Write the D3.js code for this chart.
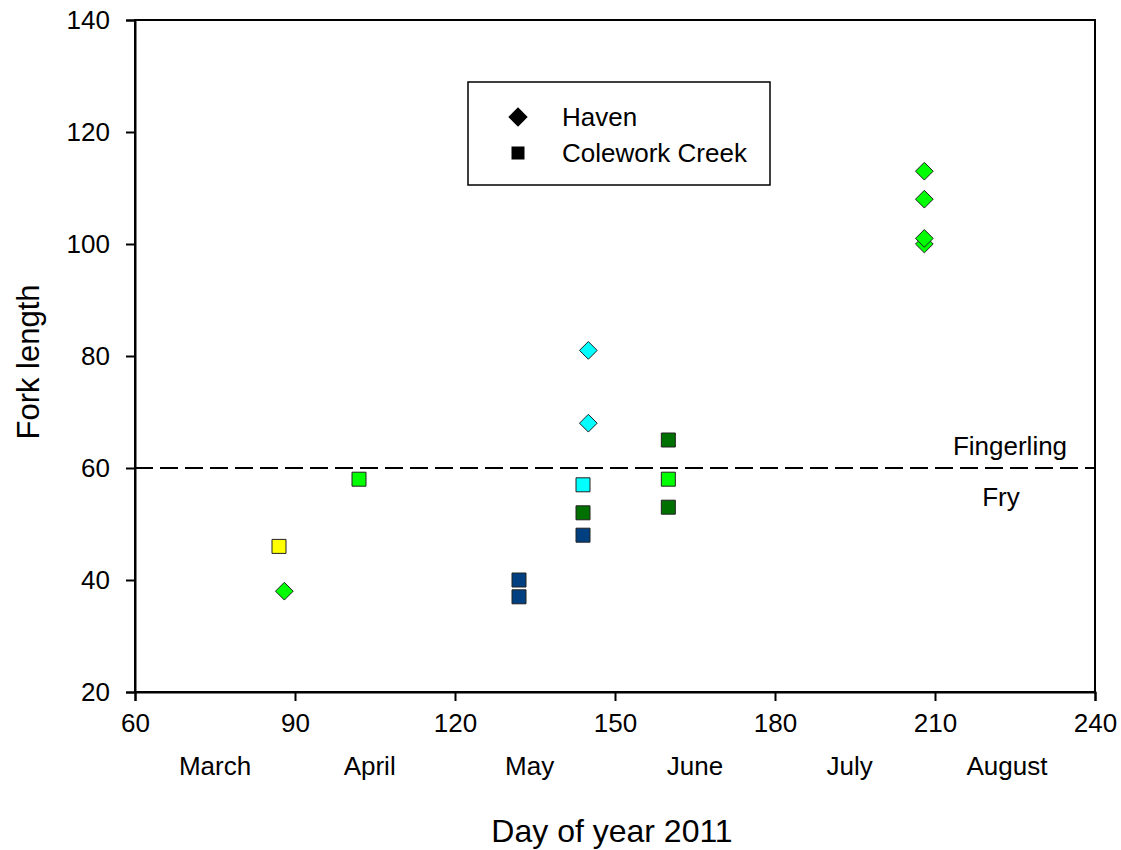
<!DOCTYPE html>
<html>
<head>
<meta charset="utf-8">
<script src="https://cdn.jsdelivr.net/npm/d3@7"></script>
<style>
    body { margin: 0; background: #fff; }
    text { font-family: "Liberation Sans", Arial, sans-serif; fill: #000; }
</style>
</head>
<body>
<svg id="chart" width="1121" height="850"></svg>
<script>
// data
const haven = [
    { day: 88,  len: 38,  color: '#00ff00' },
    { day: 145, len: 81,  color: '#00ffff' },
    { day: 145, len: 68,  color: '#00ffff' },
    { day: 208, len: 113, color: '#00ff00' },
    { day: 208, len: 108, color: '#00ff00' },
    { day: 208, len: 100, color: '#00ff00' },
    { day: 208, len: 101, color: '#00ff00' },
];
const colework = [
    { day: 87,  len: 46, color: '#ffff00' },
    { day: 102, len: 58, color: '#00ff00' },
    { day: 132, len: 40, color: '#004080' },
    { day: 132, len: 37, color: '#004080' },
    { day: 144, len: 57, color: '#00ffff' },
    { day: 144, len: 52, color: '#007000' },
    { day: 144, len: 48, color: '#004080' },
    { day: 160, len: 65, color: '#007000' },
    { day: 160, len: 58, color: '#00ff00' },
    { day: 160, len: 53, color: '#007000' },
];
const xTicks = [60, 90, 120, 150, 180, 210, 240];
const yTicks = [20, 40, 60, 80, 100, 120, 140];
const months = ['March', 'April', 'May', 'June', 'July', 'August'];
const monthDays = [75, 104, 134, 165, 194, 223.5];
const threshold = 60;

let svg = d3.select('#chart');
let mLeft = 135, mRight = 1095, mTop = 20, mBottom = 692;

let x = d3.scaleLinear().domain([60, 240]).range([mLeft, mRight]);
let y = d3.scaleLinear().domain([20, 140]).range([mBottom, mTop]);

// frame
svg.append('rect')
    .attr('x', mLeft).attr('y', mTop)
    .attr('width', mRight - mLeft).attr('height', mBottom - mTop)
    .attr('fill', 'none').attr('stroke', '#000').attr('stroke-width', 2);

let xAxis = svg.append('g')
    .attr('transform', `translate(0,${mBottom})`)
    .call(d3.axisBottom(x).tickValues(xTicks).tickSize(9).tickPadding(13));
let yAxis = svg.append('g')
    .attr('transform', `translate(${mLeft},0)`)
    .call(d3.axisLeft(y).tickValues(yTicks).tickSize(9).tickPadding(16));

for (let ax of [xAxis, yAxis]) {
    ax.select('.domain').attr('stroke-width', 2);
    ax.selectAll('.tick line').attr('stroke-width', 2);
    ax.selectAll('.tick text')
        .style('font-family', '"Liberation Sans", Arial, sans-serif')
        .style('font-size', '26px');
}

// month labels under the ticks
svg.selectAll('text.month')
    .data(months)
    .enter()
    .append('text')
    .attr('class', 'month')
    .attr('x', (d, i) => x(monthDays[i]))
    .attr('y', 775)
    .attr('text-anchor', 'middle')
    .style('font-size', '26px')
    .text(d => d);

svg.append('text')
    .attr('x', (mLeft + mRight) / 2 - 3)
    .attr('y', 842)
    .attr('text-anchor', 'middle')
    .style('font-size', '32px')
    .text('Day of year 2011');

svg.append('text')
    .attr('transform', `translate(39,${(mTop + mBottom) / 2 + 6})rotate(-90)`)
    .attr('text-anchor', 'middle')
    .style('font-size', '31px')
    .text('Fork length');

// fry / fingerling line
svg.append('line')
    .attr('x1', mLeft).attr('x2', mRight)
    .attr('y1', y(threshold)).attr('y2', y(threshold))
    .attr('stroke', '#000').attr('stroke-width', 2)
    .attr('stroke-dasharray', '18,7');

svg.append('text')
    .attr('x', 1010).attr('y', y(threshold) - 13)
    .attr('text-anchor', 'middle')
    .style('font-size', '26px')
    .text('Fingerling');
svg.append('text')
    .attr('x', 1001).attr('y', y(threshold) + 38)
    .attr('text-anchor', 'middle')
    .style('font-size', '26px')
    .text('Fry');

let diamond = d3.symbol().type(d3.symbolDiamond2).size(200);
let square = d3.symbol().type(d3.symbolSquare).size(196);

svg.selectAll('path.haven')
    .data(haven)
    .enter()
    .append('path')
    .attr('class', 'haven')
    .attr('d', diamond)
    .attr('transform', d => `translate(${x(d.day)},${y(d.len)})`)
    .attr('fill', d => d.color)
    .attr('stroke', '#222').attr('stroke-width', 1);

svg.selectAll('path.colework')
    .data(colework)
    .enter()
    .append('path')
    .attr('class', 'colework')
    .attr('d', square)
    .attr('transform', d => `translate(${x(d.day)},${y(d.len)})`)
    .attr('fill', d => d.color)
    .attr('stroke', '#222').attr('stroke-width', 1);

// legend
let legend = svg.append('g').attr('transform', 'translate(468,82)');
legend.append('rect')
    .attr('width', 302).attr('height', 103)
    .attr('fill', '#fff').attr('stroke', '#000').attr('stroke-width', 1.5);
legend.append('path')
    .attr('d', d3.symbol().type(d3.symbolDiamond2).size(240))
    .attr('transform', 'translate(50,35)')
    .attr('fill', '#000');
legend.append('path')
    .attr('d', d3.symbol().type(d3.symbolSquare).size(169))
    .attr('transform', 'translate(50,71)')
    .attr('fill', '#000');
legend.append('text')
    .attr('x', 94).attr('y', 44)
    .style('font-size', '26px')
    .text('Haven');
legend.append('text')
    .attr('x', 94).attr('y', 80)
    .style('font-size', '26px')
    .text('Colework Creek');
</script>
</body>
</html>
